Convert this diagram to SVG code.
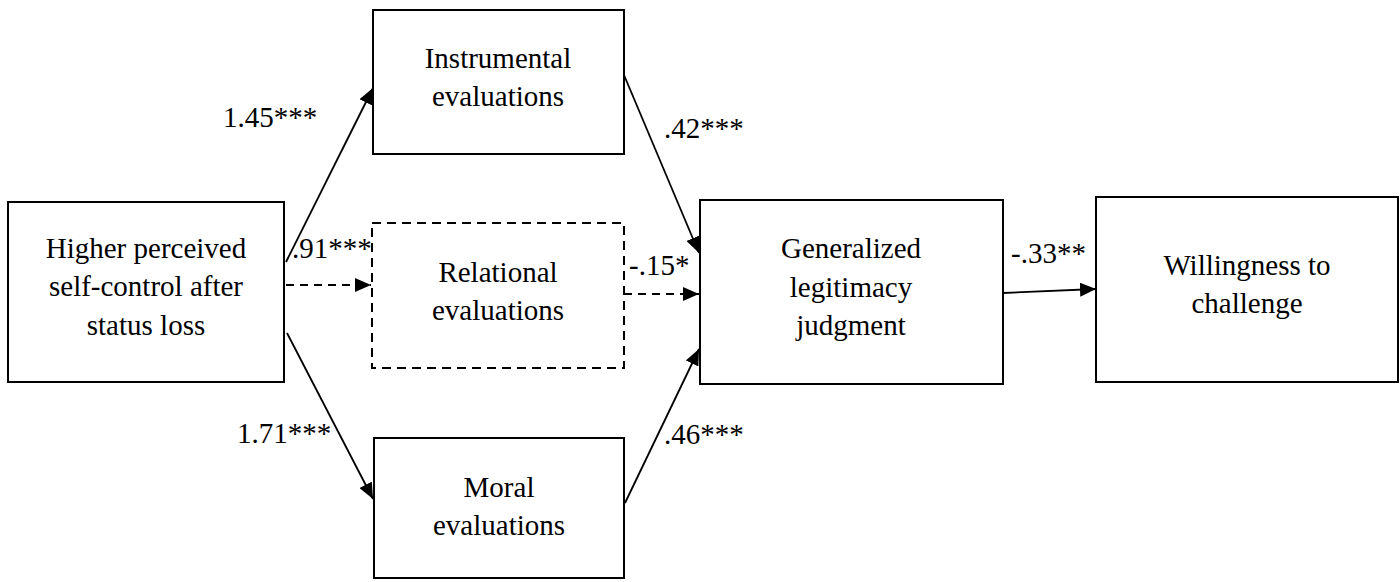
<svg xmlns="http://www.w3.org/2000/svg" width="1400" height="582" viewBox="0 0 1400 582">
<style>
.c{text-anchor:middle}
.box{fill:#fff;stroke:#000;stroke-width:2}
.dbox{fill:#fff;stroke:#000;stroke-width:2;stroke-dasharray:9 6}
.ln{fill:none;stroke:#000;stroke-width:1.8}
.dl{fill:none;stroke:#000;stroke-width:1.8;stroke-dasharray:8 6}
</style>
<defs>
<marker id="ah" markerUnits="userSpaceOnUse" markerWidth="18" markerHeight="14" refX="16" refY="7" orient="auto">
<path d="M0,0 L16,7 L0,14 z" fill="#000" stroke="none"/>
</marker>
</defs>
<g id="connectors">
<line class="ln" x1="286" y1="262" x2="373" y2="88" marker-end="url(#ah)"/>
<line class="dl" x1="286" y1="285" x2="371" y2="285" marker-end="url(#ah)"/>
<line class="ln" x1="287" y1="333" x2="373" y2="499" marker-end="url(#ah)"/>
<line class="ln" x1="624" y1="75" x2="699" y2="253" marker-end="url(#ah)"/>
<line class="dl" x1="624" y1="294" x2="699" y2="294" marker-end="url(#ah)"/>
<line class="ln" x1="625" y1="503" x2="699" y2="349" marker-end="url(#ah)"/>
<line class="ln" x1="1003" y1="293" x2="1096" y2="289" marker-end="url(#ah)"/>
<text x="223" y="127" font-family="Liberation Serif, serif" font-size="29">1.45***</text>
<text x="292" y="258" font-family="Liberation Serif, serif" font-size="29">.91***</text>
<text x="237" y="443" font-family="Liberation Serif, serif" font-size="29">1.71***</text>
<text x="664" y="138" font-family="Liberation Serif, serif" font-size="29">.42***</text>
<text x="629" y="275" font-family="Liberation Serif, serif" font-size="29">-.15*</text>
<text x="664" y="444" font-family="Liberation Serif, serif" font-size="29">.46***</text>
<text x="1011" y="263" font-family="Liberation Serif, serif" font-size="29">-.33**</text>
</g>
<g id="source">
<rect class="box" x="8" y="202" width="276" height="180"/>
<text class="c" x="146" y="258" font-family="Liberation Serif, serif" font-size="29">Higher perceived</text>
<text class="c" x="146" y="296" font-family="Liberation Serif, serif" font-size="29">self-control after</text>
<text class="c" x="146" y="335" font-family="Liberation Serif, serif" font-size="29">status loss</text>
</g>
<g id="instrumental">
<rect class="box" x="373" y="10" width="251" height="144"/>
<text class="c" x="498" y="68" font-family="Liberation Serif, serif" font-size="29">Instrumental</text>
<text class="c" x="498" y="106" font-family="Liberation Serif, serif" font-size="29">evaluations</text>
</g>
<g id="relational">
<rect class="dbox" x="372" y="223" width="252" height="145"/>
<text class="c" x="498" y="282" font-family="Liberation Serif, serif" font-size="29">Relational</text>
<text class="c" x="498" y="320" font-family="Liberation Serif, serif" font-size="29">evaluations</text>
</g>
<g id="moral">
<rect class="box" x="374" y="438" width="250" height="140"/>
<text class="c" x="499" y="497" font-family="Liberation Serif, serif" font-size="29">Moral</text>
<text class="c" x="499" y="535" font-family="Liberation Serif, serif" font-size="29">evaluations</text>
</g>
<g id="generalized">
<rect class="box" x="700" y="200" width="303" height="184"/>
<text class="c" x="851" y="258" font-family="Liberation Serif, serif" font-size="29">Generalized</text>
<text class="c" x="851" y="297" font-family="Liberation Serif, serif" font-size="29">legitimacy</text>
<text class="c" x="851" y="335" font-family="Liberation Serif, serif" font-size="29">judgment</text>
</g>
<g id="willingness">
<rect class="box" x="1096" y="197" width="302" height="185"/>
<text class="c" x="1247" y="275" font-family="Liberation Serif, serif" font-size="29">Willingness to</text>
<text class="c" x="1247" y="313" font-family="Liberation Serif, serif" font-size="29">challenge</text>
</g>
</svg>
